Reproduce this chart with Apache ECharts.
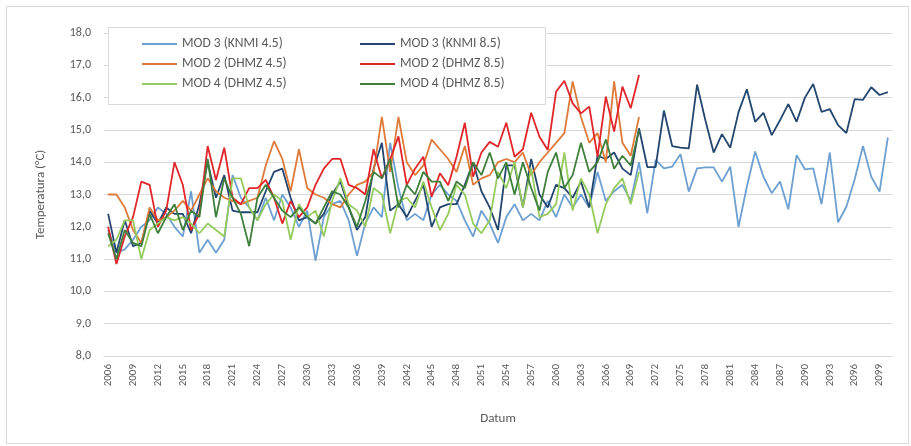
<!DOCTYPE html>
<html><head><meta charset="utf-8">
<script src="https://cdn.jsdelivr.net/npm/echarts@6/dist/echarts.min.js"></script>
<style>html,body{margin:0;padding:0;background:#fff}#c{width:911px;height:446px}</style>
</head><body><div id="c"></div>
<script>
const years = [];
for (let y = 2006; y <= 2100; y++) years.push(String(y));

const yTicks = [8, 9, 10, 11, 12, 13, 14, 15, 16, 17, 18];

const knmi45 = [11.9,11.2,11.3,11.6,12.0, 12.2,12.6,12.4,12.0,11.7, 13.1,11.2,11.6,11.2,11.6,
  13.6,12.9,12.6,12.2,12.9, 12.2,13.0,12.6,12.0,12.5, 10.95,12.3,12.7,12.8,12.2,
  11.1,12.1,12.6,12.3,14.6, 13.2,12.2,12.4,12.2,13.0, 13.3,13.0,12.8,12.2,11.7,
  12.5,12.1,11.5,12.3,12.7, 12.2,12.4,12.2,12.8,12.3, 13.0,12.6,13.0,12.6,13.7,
  12.8,13.1,13.3,12.8,14.0,
  12.42,14.07,13.81,13.86,14.25, 13.09,13.81,13.84,13.84,13.4, 13.86,12.0,13.24,14.33,13.55,
  13.04,13.4,12.54,14.22,13.78, 13.81,12.7,14.3,12.14,12.62, 13.47,14.5,13.55,13.09,14.77];

const knmi85 = [12.4,11.2,12.2,11.4,11.5, 12.5,12.1,12.6,12.4,12.4, 11.8,12.7,14.0,12.9,13.6,
  12.5,12.45,12.45,12.45,13.1, 13.7,13.8,12.9,12.2,12.3, 12.1,12.4,13.0,13.4,12.6,
  11.9,12.3,13.8,14.6,12.5, 12.7,12.3,12.8,13.3,12.0, 12.6,12.7,12.7,13.3,14.0,
  13.1,12.6,11.9,13.9,13.9, 12.6,14.1,13.0,12.6,13.3, 13.2,12.9,13.4,12.6,14.2,
  14.1,14.3,13.8,13.6,15.05,
  13.85,13.85,15.6,14.5,14.45, 14.43,16.4,15.3,14.3,14.87, 14.45,15.55,16.26,15.25,15.53,
  14.84,15.3,15.8,15.25,16.0, 16.42,15.56,15.64,15.15,14.9, 15.95,15.93,16.32,16.08,16.17];

const dhmz2_45 = [13.0,13.0,12.6,11.9,11.5, 12.6,12.2,12.3,12.5,12.8, 12.5,13.0,13.5,13.1,12.9,
  12.8,12.7,12.8,12.9,13.9, 14.65,14.1,13.1,14.4,13.2, 13.0,12.9,12.7,12.6,13.0,
  13.3,13.4,13.7,15.4,13.7, 15.4,14.0,13.6,13.9,14.7, 14.4,14.1,13.7,14.5,13.3,
  13.5,13.6,14.0,14.1,14.0, 14.3,13.6,14.0,14.3,14.6, 14.9,16.5,15.4,14.6,14.9,
  14.0,16.5,14.6,14.2,15.4];

const dhmz2_85 = [12.0,10.85,11.7,12.3,13.4, 13.3,12.0,12.5,14.0,13.3, 11.9,12.4,14.5,13.45,14.45,
  12.9,12.7,13.2,13.2,13.45, 12.9,12.1,12.8,12.3,12.6, 13.3,13.8,14.1,14.1,13.3,
  13.2,13.0,14.4,13.5,14.1, 14.8,13.3,13.8,14.17,12.93, 13.66,13.29,14.17,15.22,13.55,
  14.3,14.63,14.48,15.22,14.17, 14.4,15.53,14.79,14.38,16.18, 16.52,15.82,15.51,15.72,14.17,
  16.03,14.95,16.34,15.67,16.7];

const dhmz4_45 = [11.4,11.6,12.2,12.2,11.0, 11.9,12.1,12.3,12.2,12.3, 12.1,11.8,12.1,11.9,11.7,
  13.5,13.5,12.6,12.2,12.7, 13.0,12.8,11.6,12.7,12.3, 12.5,11.7,12.8,13.5,12.7,
  12.5,12.0,13.2,13.0,11.8, 12.8,12.9,12.6,13.4,12.6, 11.9,12.4,13.3,13.0,12.1,
  11.8,12.2,13.7,13.2,14.0, 12.6,13.8,12.3,12.4,12.7, 14.3,12.5,13.5,13.0,11.8,
  12.7,13.2,13.5,12.7,13.7];

const dhmz4_85 = [11.8,11.0,11.9,11.5,11.4, 12.4,11.8,12.3,12.7,11.9, 12.5,12.3,14.1,12.3,13.5,
  12.9,12.4,11.4,12.9,13.3, 12.9,12.5,12.3,12.6,12.3, 12.1,12.6,13.1,13.0,12.6,
  12.0,12.8,13.7,13.5,14.1, 12.6,13.3,13.0,13.7,13.4, 13.4,12.8,13.4,13.2,14.0,
  13.6,14.3,13.5,14.0,13.0, 14.0,13.2,12.5,13.7,14.3, 13.2,13.6,14.6,13.7,14.0,
  14.7,13.8,14.2,13.9,15.0];

const names = ['MOD 3 (KNMI 4.5)','MOD 3 (KNMI 8.5)','MOD 2 (DHMZ 4.5)','MOD 2 (DHMZ 8.5)','MOD 4 (DHMZ 4.5)','MOD 4 (DHMZ 8.5)'];
const colors = ['#6E9FD1','#23466E','#DE7A3A','#E0262A','#96CC5E','#3F7F3C'];
const datas = [knmi45, knmi85, dhmz2_45, dhmz2_85, dhmz4_45, dhmz4_85];

const chart = echarts.init(document.getElementById('c'));
const font = 'Calibri, Carlito, "Open Sans", "Liberation Sans", sans-serif';
chart.setOption({
  animation: false,
  backgroundColor: '#fff',
  textStyle: { fontFamily: font },
  graphic: [
    { type: 'rect', left: 4, top: 4, shape: { width: 902, height: 437 }, style: { fill: 'none', stroke: '#d9d9d9', lineWidth: 1 }, silent: true },
    { type: 'rect', left: 108, top: 27, shape: { width: 437, height: 77 }, style: { fill: '#fff', stroke: '#d9d9d9', lineWidth: 1 }, z: 5, silent: true }
  ],
  grid: { left: 104, right: 19, top: 33, bottom: 90 },
  legend: [
    { data: [names[0], names[2], names[4]], orient: 'vertical', left: 137, top: 32, itemWidth: 35, itemHeight: 2, itemGap: 6, icon: 'rect', z: 10,
      textStyle: { fontSize: 13.5, color: '#595959', fontFamily: font } },
    { data: [names[1], names[3], names[5]], orient: 'vertical', left: 355, top: 32, itemWidth: 35, itemHeight: 2, itemGap: 6, icon: 'rect', z: 10,
      textStyle: { fontSize: 13.5, color: '#595959', fontFamily: font } }
  ],
  xAxis: {
    type: 'category', data: years, boundaryGap: true,
    name: 'Datum', nameLocation: 'middle', nameGap: 56,
    nameTextStyle: { fontSize: 13, color: '#595959' },
    axisLine: { lineStyle: { color: '#d9d9d9' } },
    axisTick: { show: false },
    axisLabel: { interval: 2, rotate: 90, fontSize: 11, color: '#595959' },
    splitLine: { show: false }
  },
  yAxis: {
    type: 'value', min: yTicks[0], max: yTicks[yTicks.length - 1], interval: 1,
    name: 'Temperatura (°C)', nameLocation: 'middle', nameGap: 57,
    nameTextStyle: { fontSize: 13, color: '#595959' },
    axisLine: { show: false }, axisTick: { show: false },
    axisLabel: { fontSize: 12, margin: 13, color: '#595959', formatter: v => v.toFixed(1).replace('.', ',') },
    splitLine: { lineStyle: { color: '#d9d9d9' } }
  },
  series: names.map((n, i) => ({
    name: n, type: 'line', data: datas[i], showSymbol: false, symbol: 'none',
    color: colors[i], lineStyle: { width: 1.8, color: colors[i] }
  }))
});
</script></body></html>
